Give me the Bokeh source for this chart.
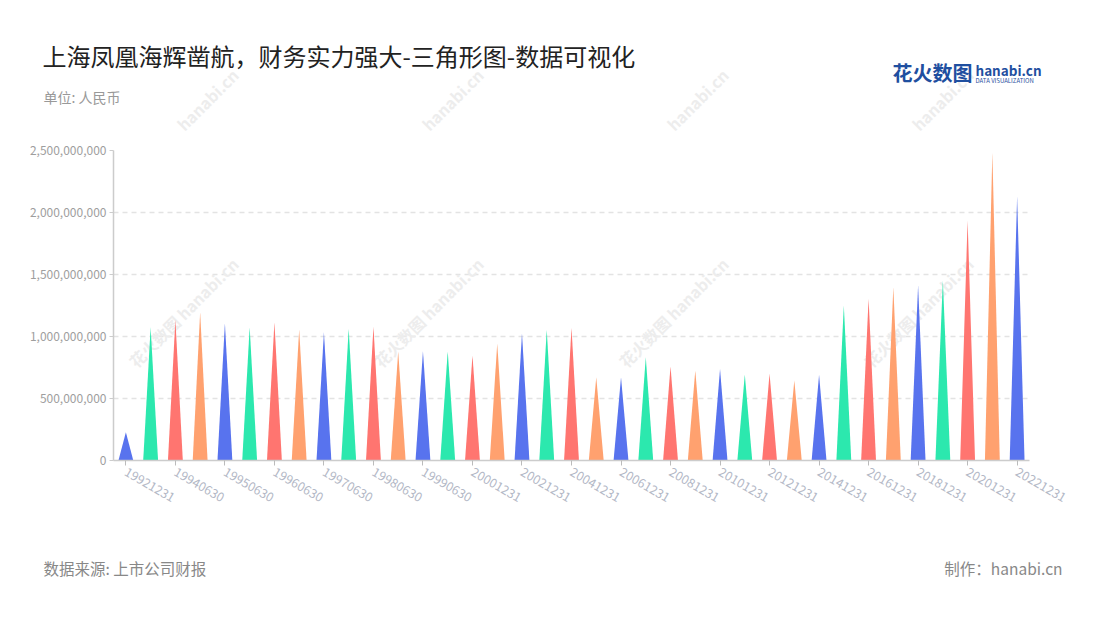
import math
from bokeh.plotting import figure
from bokeh.layouts import column
from bokeh.models import (ColumnDataSource, Range1d, FixedTicker, NumeralTickFormatter, Label)
from bokeh.embed import file_html
from bokeh.resources import INLINE

# ---------------- data ----------------
dates = ["19921231", "19931231", "19940630", "19941231", "19950630", "19951231",
         "19960630", "19961231", "19970630", "19971231", "19980630", "19981231",
         "19990630", "19991231", "20001231", "20011231", "20021231", "20031231",
         "20041231", "20051231", "20061231", "20071231", "20081231", "20091231",
         "20101231", "20111231", "20121231", "20131231", "20141231", "20151231",
         "20161231", "20171231", "20181231", "20191231", "20201231", "20211231",
         "20221231"]
values = [228e6, 1075e6, 1135e6, 1196e6, 1107e6, 1075e6,
          1115e6, 1056e6, 1035e6, 1062e6, 1081e6, 879e6,
          881e6, 881e6, 847e6, 946e6, 1027e6, 1054e6,
          1070e6, 672e6, 672e6, 833e6, 758e6, 726e6,
          737e6, 694e6, 699e6, 645e6, 691e6, 1250e6,
          1304e6, 1398e6, 1411e6, 1452e6, 1935e6, 2486e6,
          2129e6]
palette = ["#5873EE", "#2CE8AE", "#FF7570", "#FFA16F"]
y_ticks = [0, 500e6, 1000e6, 1500e6, 2000e6, 2500e6]

title_text = "上海凤凰海辉凿航，财务实力强大-三角形图-数据可视化"
unit_text = "单位: 人民币"
source_text = "数据来源: 上市公司财报"
maker_text = "制作：hanabi.cn"
watermark_text = "花火数图 hanabi.cn"

FONT = "Noto Sans CJK SC"
W = 1084
HEAD_H, MAIN_H, FOOT_H = 136, 404, 60
FRAME_L, FRAME_R, FRAME_T, FRAME_B = 113, 1029, 150, 460   # page coords of plot frame
WM_X = [183, 428, 673, 918]
WM_COLOR = "#ededed"
A45 = math.pi / 4


def blank_fig(h):
    f = figure(width=W, height=h, x_range=Range1d(0, W), y_range=Range1d(0, h),
               x_axis_type=None, y_axis_type=None,
               output_backend="svg", toolbar_location=None, frame_align=False,
               min_border=0, min_border_left=0, min_border_right=0,
               min_border_top=0, min_border_bottom=0)
    f.grid.visible = False
    f.outline_line_color = None
    f.background_fill_color = "white"
    f.border_fill_color = "white"
    return f


def add_label(f, text, x, y, size, color, align="left", style="normal",
              units="data", angle=0.0, level="annotation"):
    f.add_layout(Label(x=x, y=y, x_units=units, y_units=units, text=text,
                       text_align=align, text_baseline="middle", angle=angle,
                       text_font=FONT, text_font_size=size, text_color=color,
                       text_font_style=style, level=level))


# ---------------- header ----------------
head = blank_fig(HEAD_H)
# upper-right halves of the first watermark row (the rest hides behind the axis margin)
for wx in WM_X:
    add_label(head, "hanabi.cn", wx + 24, HEAD_H - 99, "16px", WM_COLOR,
              align="center", style="bold", angle=A45, level="underlay")
add_label(head, title_text, 42, HEAD_H - 55, "24px", "#222222")
add_label(head, unit_text, 43, HEAD_H - 96, "14px", "#999999")
add_label(head, "花火数图", 892, HEAD_H - 72, "20px", "#1f4fa0", style="bold")
add_label(head, "hanabi.cn", 975, HEAD_H - 69, "13.5px", "#1f4fa0", style="bold")
add_label(head, "DATA VISUALIZATION", 975, HEAD_H - 80, "6px", "#1f4fa0")

# ---------------- main chart ----------------
half = 0.3
xs, ys, cols = [], [], []
for i, v in enumerate(values):
    xs.append([i - half, i, i + half])
    ys.append([0, v, 0])
    cols.append(palette[i % len(palette)])
src = ColumnDataSource(dict(xs=xs, ys=ys, color=cols))

n = len(values)
main_top = HEAD_H
p = figure(width=W, height=MAIN_H,
           x_range=Range1d(-0.5, n - 0.5), y_range=Range1d(0, y_ticks[-1]),
           output_backend="svg", toolbar_location=None, frame_align=False,
           min_border_left=FRAME_L, min_border_right=W - FRAME_R,
           min_border_top=FRAME_T - main_top,
           min_border_bottom=main_top + MAIN_H - FRAME_B)
p.outline_line_color = None
p.background_fill_color = "white"
p.border_fill_color = "white"

# second watermark row, fully inside the frame (screen units from frame bottom-left)
for wx in WM_X:
    add_label(p, watermark_text, wx - FRAME_L, FRAME_B - 312, "16px", WM_COLOR,
              align="center", style="bold", units="screen", angle=A45, level="underlay")

p.patches("xs", "ys", source=src, fill_color="color", line_color=None)

p.xgrid.visible = False
p.ygrid.grid_line_color = "#e3e3e3"
p.ygrid.grid_line_dash = "5 4"
p.ygrid.grid_line_width = 1.5
p.ygrid.ticker = FixedTicker(ticks=y_ticks)

xa = p.xaxis[0]
xa.ticker = FixedTicker(ticks=list(range(0, n, 2)))
xa.major_label_overrides = {i: dates[i] for i in range(0, n, 2)}
xa.major_label_orientation = -math.pi / 6
xa.major_label_text_font = FONT
xa.major_label_text_font_size = "12.5px"
xa.major_label_text_color = "#b3b8c6"
xa.major_label_standoff = 5
xa.axis_line_color = "#cccccc"
xa.axis_line_width = 1.5
xa.major_tick_line_color = "#bbbbbb"
xa.major_tick_out = 5
xa.major_tick_in = 0
xa.minor_tick_line_color = None

ya = p.yaxis[0]
ya.ticker = FixedTicker(ticks=y_ticks)
ya.formatter = NumeralTickFormatter(format="0,0")
ya.major_label_text_font = FONT
ya.major_label_text_font_size = "12px"
ya.major_label_text_color = "#9e9e9e"
ya.major_label_standoff = 3
ya.axis_line_color = "#cccccc"
ya.axis_line_width = 1.5
ya.major_tick_line_color = "#cccccc"
ya.major_tick_out = 4
ya.major_tick_in = 0
ya.minor_tick_line_color = None

# ---------------- footer ----------------
foot_top = HEAD_H + MAIN_H
foot = blank_fig(FOOT_H)
add_label(foot, source_text, 43, foot_top + FOOT_H - 567, "15.5px", "#888888")
add_label(foot, maker_text, 1062, foot_top + FOOT_H - 567, "15.5px", "#888888", align="right")

layout = column(head, p, foot, spacing=0)
open("out.html", "w").write(file_html(layout, INLINE))
